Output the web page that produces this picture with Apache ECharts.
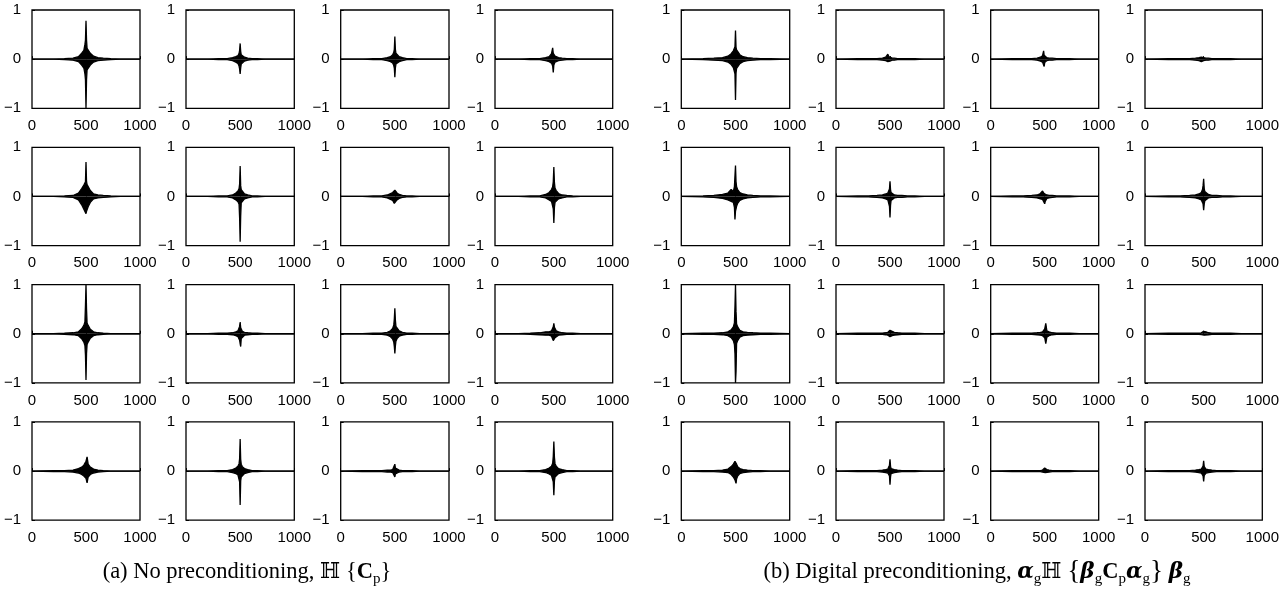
<!DOCTYPE html>
<html>
<head>
<meta charset="utf-8">
<script src="https://cdn.jsdelivr.net/npm/echarts@6/dist/echarts.min.js"></script>
<style>
html,body{margin:0;padding:0;background:#fff;}
#chart{width:1285px;height:594px;}
</style>
</head>
<body>
<div id="chart"></div>
<script>
// sample positions (shared by every panel)
const sampleX = [0, 200, 300, 380, 430, 460, 480, 490, 495, 500, 505, 510, 520, 540, 570, 610, 660, 730, 820, 1000];
const xTicks = [0, 500, 1000];
const yTicks = [-1, 0, 1];

// (a) No preconditioning: upper / lower envelopes, 16 panels row-major
const noPrecUpper = [
  [0,0,0.01,0.02,0.05,0.12,0.18,0.3,0.39,0.78,0.39,0.22,0.18,0.12,0.06,0.03,0.02,0.01,0,0],
  [0,0,0.01,0.01,0.03,0.05,0.07,0.12,0.18,0.32,0.16,0.09,0.06,0.04,0.02,0.01,0.01,0,0,0],
  [0,0,0.01,0.01,0.03,0.05,0.09,0.14,0.2,0.46,0.2,0.12,0.09,0.05,0.03,0.01,0.01,0,0,0],
  [0,0,0.01,0.01,0.03,0.05,0.11,0.23,0.12,0.1,0.08,0.06,0.05,0.03,0.02,0.01,0.01,0,0,0],
  [0,0,0.01,0.02,0.07,0.16,0.23,0.25,0.3,0.70,0.3,0.24,0.21,0.12,0.05,0.03,0.02,0.01,0,0],
  [0,0,0.01,0.01,0.03,0.07,0.11,0.16,0.25,0.62,0.22,0.14,0.1,0.05,0.03,0.01,0.01,0,0,0],
  [0,0,0.01,0.01,0.03,0.06,0.08,0.11,0.12,0.13,0.12,0.1,0.07,0.04,0.02,0.01,0.01,0,0,0],
  [0,0,0.01,0.01,0.04,0.08,0.14,0.2,0.3,0.60,0.28,0.17,0.12,0.06,0.03,0.02,0.01,0,0,0],
  [0,0,0.01,0.02,0.04,0.1,0.17,0.24,0.58,1.0,0.5,0.22,0.17,0.09,0.04,0.02,0.01,0,0,0],
  [0,0,0.01,0.01,0.02,0.04,0.06,0.1,0.15,0.24,0.12,0.08,0.05,0.03,0.02,0.01,0.01,0,0,0],
  [0,0,0.01,0.01,0.03,0.06,0.11,0.18,0.3,0.52,0.28,0.15,0.11,0.06,0.03,0.01,0.01,0,0,0],
  [0,0,0.01,0.02,0.04,0.04,0.06,0.1,0.14,0.21,0.13,0.09,0.06,0.04,0.02,0.01,0.01,0,0,0],
  [0,0.01,0.01,0.02,0.05,0.08,0.12,0.14,0.16,0.2,0.24,0.29,0.14,0.08,0.04,0.02,0.01,0,0,0],
  [0,0,0.01,0.01,0.03,0.06,0.1,0.15,0.25,0.65,0.24,0.14,0.09,0.05,0.03,0.01,0.01,0,0,0],
  [0,0.01,0.01,0.01,0.02,0.02,0.03,0.04,0.06,0.14,0.06,0.03,0.02,0.02,0.01,0.01,0.01,0,0,0],
  [0,0,0.01,0.01,0.03,0.06,0.1,0.16,0.3,0.60,0.28,0.15,0.1,0.05,0.03,0.01,0.01,0,0,0]
];
const noPrecLower = [
  [0,0,-0.01,-0.02,-0.05,-0.12,-0.18,-0.3,-0.42,-1.0,-0.42,-0.22,-0.18,-0.12,-0.06,-0.03,-0.02,-0.01,0,0],
  [0,0,-0.01,-0.01,-0.03,-0.06,-0.09,-0.14,-0.2,-0.30,-0.18,-0.1,-0.07,-0.04,-0.02,-0.01,-0.01,0,0,0],
  [0,0,-0.01,-0.01,-0.03,-0.05,-0.08,-0.13,-0.18,-0.37,-0.18,-0.1,-0.07,-0.05,-0.03,-0.01,-0.01,0,0,0],
  [0,0,-0.01,-0.01,-0.03,-0.05,-0.08,-0.14,-0.27,-0.12,-0.08,-0.06,-0.05,-0.03,-0.02,-0.01,-0.01,0,0,0],
  [0,0,-0.01,-0.02,-0.07,-0.17,-0.26,-0.27,-0.3,-0.35,-0.3,-0.26,-0.21,-0.12,-0.05,-0.03,-0.02,-0.01,0,0],
  [0,0,-0.01,-0.01,-0.03,-0.07,-0.11,-0.16,-0.43,-0.92,-0.4,-0.13,-0.09,-0.05,-0.03,-0.01,-0.01,0,0,0],
  [0,0,-0.01,-0.01,-0.03,-0.06,-0.08,-0.11,-0.14,-0.16,-0.13,-0.1,-0.07,-0.04,-0.02,-0.01,-0.01,0,0,0],
  [0,0,-0.01,-0.01,-0.03,-0.07,-0.1,-0.14,-0.25,-0.54,-0.22,-0.12,-0.09,-0.05,-0.03,-0.01,-0.01,0,0,0],
  [0,0,-0.01,-0.02,-0.04,-0.1,-0.17,-0.24,-0.43,-0.94,-0.4,-0.22,-0.17,-0.09,-0.04,-0.02,-0.01,0,0,0],
  [0,0,-0.01,-0.01,-0.02,-0.04,-0.06,-0.1,-0.13,-0.2,-0.26,-0.1,-0.06,-0.03,-0.02,-0.01,-0.01,0,0,0],
  [0,0,-0.01,-0.01,-0.03,-0.06,-0.11,-0.17,-0.26,-0.40,-0.25,-0.15,-0.1,-0.05,-0.03,-0.01,-0.01,0,0,0],
  [0,0,-0.01,-0.02,-0.03,-0.03,-0.05,-0.09,-0.14,-0.12,-0.1,-0.08,-0.05,-0.03,-0.02,-0.01,-0.01,0,0,0],
  [0,-0.01,-0.01,-0.02,-0.04,-0.07,-0.1,-0.12,-0.13,-0.15,-0.18,-0.24,-0.12,-0.07,-0.04,-0.02,-0.01,0,0,0],
  [0,0,-0.01,-0.01,-0.03,-0.05,-0.08,-0.12,-0.22,-0.69,-0.2,-0.12,-0.08,-0.05,-0.03,-0.01,-0.01,0,0,0],
  [0,-0.01,-0.01,-0.01,-0.02,-0.02,-0.03,-0.04,-0.06,-0.12,-0.06,-0.03,-0.02,-0.02,-0.01,-0.01,-0.01,0,0,0],
  [0,0,-0.01,-0.01,-0.03,-0.06,-0.09,-0.13,-0.22,-0.49,-0.2,-0.12,-0.08,-0.05,-0.03,-0.01,-0.01,0,0,0]
];
// (b) Digital preconditioning
const digPrecUpper = [
  [0,0.01,0.02,0.03,0.06,0.11,0.17,0.2,0.25,0.58,0.24,0.19,0.15,0.09,0.05,0.03,0.02,0.01,0.01,0],
  [0,0.01,0.01,0.01,0.02,0.04,0.1,0.05,0.04,0.04,0.03,0.03,0.02,0.02,0.01,0.01,0.01,0.01,0,0],
  [0,0.01,0.01,0.01,0.02,0.04,0.07,0.17,0.08,0.06,0.05,0.04,0.03,0.02,0.02,0.01,0.01,0.01,0,0],
  [0,0.01,0.01,0.01,0.02,0.03,0.04,0.06,0.04,0.03,0.03,0.02,0.02,0.02,0.01,0.01,0.01,0.01,0,0],
  [0,0.01,0.02,0.04,0.07,0.14,0.1,0.2,0.42,0.63,0.3,0.2,0.14,0.08,0.05,0.03,0.02,0.01,0.01,0],
  [0,0.01,0.01,0.02,0.03,0.05,0.07,0.1,0.15,0.31,0.14,0.08,0.05,0.03,0.02,0.02,0.01,0.01,0,0],
  [0,0.01,0.01,0.02,0.03,0.06,0.11,0.08,0.06,0.05,0.05,0.04,0.03,0.02,0.02,0.01,0.01,0.01,0,0],
  [0,0.01,0.01,0.02,0.03,0.05,0.08,0.14,0.22,0.36,0.16,0.1,0.06,0.04,0.02,0.02,0.01,0.01,0,0],
  [0,0.01,0.01,0.02,0.04,0.08,0.14,0.22,0.55,1.0,0.45,0.2,0.14,0.07,0.04,0.03,0.02,0.01,0.01,0],
  [0,0.01,0.01,0.01,0.01,0.02,0.03,0.05,0.06,0.07,0.07,0.06,0.05,0.03,0.02,0.01,0.01,0.01,0,0],
  [0,0.01,0.01,0.01,0.02,0.03,0.04,0.05,0.06,0.1,0.14,0.21,0.06,0.04,0.02,0.01,0.01,0.01,0,0],
  [0,0.01,0.01,0.01,0.01,0.01,0.02,0.03,0.04,0.05,0.07,0.05,0.04,0.02,0.01,0.01,0.01,0.01,0,0],
  [0,0.01,0.01,0.02,0.04,0.09,0.14,0.16,0.2,0.23,0.18,0.14,0.09,0.05,0.03,0.02,0.01,0.01,0,0],
  [0,0.01,0.01,0.01,0.02,0.03,0.04,0.06,0.12,0.24,0.1,0.05,0.04,0.03,0.02,0.01,0.01,0.01,0,0],
  [0,0.01,0.01,0.01,0.01,0.01,0.02,0.03,0.04,0.06,0.05,0.04,0.03,0.02,0.01,0.01,0.01,0.01,0,0],
  [0,0.01,0.01,0.01,0.02,0.03,0.04,0.06,0.1,0.21,0.09,0.05,0.04,0.03,0.02,0.01,0.01,0.01,0,0]
];
const digPrecLower = [
  [0,-0.01,-0.02,-0.03,-0.06,-0.11,-0.17,-0.2,-0.3,-0.83,-0.28,-0.19,-0.15,-0.09,-0.05,-0.03,-0.02,-0.01,-0.01,0],
  [0,-0.01,-0.01,-0.01,-0.02,-0.03,-0.05,-0.08,-0.05,-0.04,-0.03,-0.03,-0.02,-0.02,-0.01,-0.01,-0.01,-0.01,0,0],
  [0,-0.01,-0.01,-0.01,-0.02,-0.04,-0.06,-0.09,-0.15,-0.07,-0.05,-0.04,-0.03,-0.02,-0.02,-0.01,-0.01,-0.01,0,0],
  [0,-0.01,-0.01,-0.01,-0.02,-0.03,-0.05,-0.08,-0.05,-0.03,-0.03,-0.02,-0.02,-0.02,-0.01,-0.01,-0.01,-0.01,0,0],
  [0,-0.01,-0.02,-0.04,-0.07,-0.1,-0.12,-0.22,-0.47,-0.3,-0.25,-0.2,-0.14,-0.08,-0.05,-0.03,-0.02,-0.01,-0.01,0],
  [0,-0.01,-0.01,-0.02,-0.03,-0.05,-0.07,-0.1,-0.2,-0.43,-0.18,-0.08,-0.05,-0.03,-0.02,-0.02,-0.01,-0.01,0,0],
  [0,-0.01,-0.01,-0.02,-0.03,-0.05,-0.06,-0.07,-0.1,-0.15,-0.1,-0.06,-0.04,-0.03,-0.02,-0.01,-0.01,-0.01,0,0],
  [0,-0.01,-0.01,-0.02,-0.03,-0.05,-0.07,-0.1,-0.15,-0.28,-0.15,-0.09,-0.05,-0.03,-0.02,-0.02,-0.01,-0.01,0,0],
  [0,-0.01,-0.01,-0.02,-0.04,-0.08,-0.14,-0.22,-0.4,-1.0,-0.77,-0.2,-0.14,-0.07,-0.04,-0.03,-0.02,-0.01,-0.01,0],
  [0,-0.01,-0.01,-0.01,-0.01,-0.02,-0.03,-0.04,-0.05,-0.06,-0.06,-0.05,-0.04,-0.03,-0.02,-0.01,-0.01,-0.01,0,0],
  [0,-0.01,-0.01,-0.01,-0.02,-0.03,-0.04,-0.05,-0.06,-0.08,-0.12,-0.2,-0.07,-0.04,-0.02,-0.01,-0.01,-0.01,0,0],
  [0,-0.01,-0.01,-0.01,-0.01,-0.01,-0.02,-0.02,-0.03,-0.03,-0.03,-0.03,-0.02,-0.02,-0.01,-0.01,-0.01,-0.01,0,0],
  [0,-0.01,-0.01,-0.02,-0.03,-0.07,-0.12,-0.15,-0.18,-0.2,-0.25,-0.16,-0.1,-0.05,-0.03,-0.02,-0.01,-0.01,0,0],
  [0,-0.01,-0.01,-0.01,-0.02,-0.03,-0.04,-0.06,-0.1,-0.28,-0.12,-0.05,-0.04,-0.03,-0.02,-0.01,-0.01,-0.01,0,0],
  [0,-0.01,-0.01,-0.01,-0.01,-0.01,-0.02,-0.02,-0.03,-0.03,-0.03,-0.03,-0.02,-0.02,-0.01,-0.01,-0.01,-0.01,0,0],
  [0,-0.01,-0.01,-0.01,-0.02,-0.03,-0.04,-0.06,-0.1,-0.21,-0.09,-0.05,-0.04,-0.03,-0.02,-0.01,-0.01,-0.01,0,0]
];

// layout
const colLeft  = [32, 186, 340.7, 495, 681.3, 836, 990.7, 1145];
const colWidth = [108, 108.3, 108.3, 117.7, 108.4, 108, 108, 117.3];
const rowTop = [10, 147.3, 284.6, 421.9];
const rowHeight = 98.3;

const tickFont = 'Liberation Sans, Arial, Helvetica, sans-serif';
const grids = [], xAxes = [], yAxes = [], series = [];
const groups = [[noPrecUpper, noPrecLower], [digPrecUpper, digPrecLower]];
let gi = 0;
groups.forEach((grp, g) => {
  for (let k = 0; k < 16; k++) {
    const r = Math.floor(k / 4), c = g * 4 + (k % 4);
    grids.push({left: colLeft[c], top: rowTop[r], width: colWidth[c], height: rowHeight,
      show: true, borderColor: '#000', borderWidth: 1.3, backgroundColor: 'transparent', containLabel: false});
    xAxes.push({type: 'value', gridIndex: gi, min: xTicks[0], max: xTicks[2], interval: xTicks[1] - xTicks[0],
      axisLine: {show: false}, splitLine: {show: false},
      axisTick: {show: true, inside: true, length: 3, lineStyle: {color: '#000', width: 1}},
      axisLabel: {color: '#000', fontSize: 15, fontFamily: tickFont, margin: 10, showMinLabel: true, showMaxLabel: true,
        formatter: v => String(v)}});
    yAxes.push({type: 'value', gridIndex: gi, min: yTicks[0], max: yTicks[2], interval: yTicks[1] - yTicks[0],
      axisLine: {show: false}, splitLine: {show: false},
      axisTick: {show: true, inside: true, length: 3, lineStyle: {color: '#000', width: 1}},
      axisLabel: {color: '#000', fontSize: 15, fontFamily: tickFont, margin: 11, showMinLabel: true, showMaxLabel: true,
        formatter: v => (v < 0 ? '\u2212' + Math.abs(v) : String(v))}});
    [grp[0][k], grp[1][k]].forEach(env => {
      series.push({type: 'line', xAxisIndex: gi, yAxisIndex: gi, symbol: 'none', silent: true, animation: false,
        data: sampleX.map((x, i) => [x, env[i]]),
        lineStyle: {color: '#000', width: 1.3},
        areaStyle: {color: '#000', opacity: 1, origin: 0}});
    });
    gi++;
  }
});

const serif = 'Liberation Serif, DejaVu Serif, serif';
const mathFont = 'DejaVu Serif, DejaVu Sans, serif';
const FS = 22.5;
const capRich = {
  t: {fontSize: FS, fontFamily: serif, fill: '#000', lineHeight: 30, verticalAlign: 'middle'},
  H: {fontSize: FS - 1, fontFamily: mathFont, fill: '#000', lineHeight: 30, verticalAlign: 'middle'},
  sp: {fontSize: FS, fontFamily: serif, fill: '#000', lineHeight: 30, verticalAlign: 'middle'},
  C: {fontSize: FS, fontFamily: serif, fontWeight: 'bold', fill: '#000', lineHeight: 30, verticalAlign: 'middle'},
  g: {fontSize: FS - 1, fontFamily: mathFont, fontWeight: 'bold', fontStyle: 'italic', fill: '#000', lineHeight: 30, verticalAlign: 'middle'},
  s: {fontSize: 15, fontFamily: serif, fill: '#000', lineHeight: 20, verticalAlign: 'bottom'}
};
// plain (untagged) parts use the element's base style: braces
const captionA = '{t|(a) No preconditioning, }{H|ℍ}{sp| }{{C|C}{s|p}}';
const captionB = '{t|(b) Digital preconditioning, }{g|α}{s|g}{H|ℍ}{sp| }{{g|β}{s|g}{C|C}{s|p}{g|α}{s|g}}{sp| }{g|β}{s|g}';

const chart = echarts.init(document.getElementById('chart'), null, {renderer: 'canvas'});
chart.setOption({
  animation: false,
  backgroundColor: '#fff',
  grid: grids, xAxis: xAxes, yAxis: yAxes, series: series,
  graphic: [
    {type: 'text', x: 247, y: 572, style: {text: captionA, rich: capRich, fontSize: FS, fontFamily: serif, fill: '#000',
      lineHeight: 30, align: 'center', verticalAlign: 'middle'}},
    {type: 'text', x: 977, y: 572, style: {text: captionB, rich: capRich, fontSize: FS + 5, fontFamily: serif, fill: '#000',
      lineHeight: 30, align: 'center', verticalAlign: 'middle'}}
  ]
});
</script>
</body>
</html>
